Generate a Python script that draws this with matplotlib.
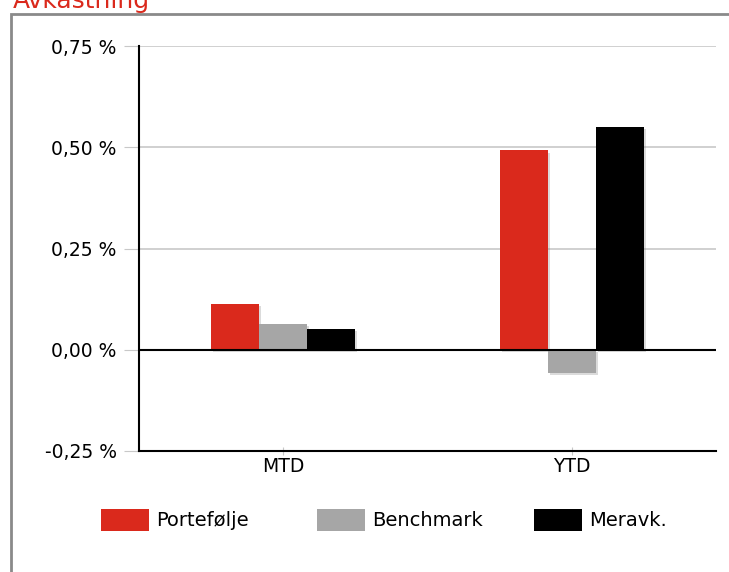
import numpy as np
import matplotlib
matplotlib.use("Agg")
import matplotlib.pyplot as plt
import matplotlib.patheffects as pe
from matplotlib.patches import Rectangle, Patch
from matplotlib.ticker import FuncFormatter

categories = ['MTD', 'YTD']
series_names = ['Portefølje', 'Benchmark', 'Meravk.']
portefolje = [0.113, 0.492]
benchmark = [0.063, -0.058]
meravk = [0.052, 0.550]
colors = ['#DA291C', '#A6A6A6', '#000000']

plt.rcParams['font.family'] = ['DejaVu Sans']

fig = plt.figure(figsize=(7.29, 5.72), dpi=100)

# grå ramme rundt hele grafen (fortsetter utenfor bildet)
fig.patches.append(Rectangle((11 / 729, -0.1), 1.0, 1 - 14 / 572 + 0.1,
                             transform=fig.transFigure, fill=False,
                             edgecolor='#8a8a8a', linewidth=2))
fig.text(13 / 729, 1 - 8 / 572, 'Avkastning', color='#DA291C',
         fontsize=18, va='baseline', ha='left')

ax = fig.add_axes([139 / 729, 1 - 451 / 572, 577 / 729, 405 / 572])

x = np.arange(len(categories))
w = 1 / 6
shadow = [pe.SimplePatchShadow(offset=(1.5, -1.5), shadow_rgbFace='#888888', alpha=0.3),
          pe.Normal()]
for i, vals in enumerate([portefolje, benchmark, meravk]):
    ax.bar(x + (i - 1) * w, vals, width=w, color=colors[i],
           zorder=3, path_effects=shadow)

ax.set_xlim(-0.5, 1.5)
ax.set_ylim(-0.25, 0.75)
ax.set_yticks([-0.25, 0, 0.25, 0.5, 0.75])
ax.yaxis.set_major_formatter(FuncFormatter(lambda v, p: f'{v:.2f} %'.replace('.', ',')))
ax.set_xticks(x)
ax.set_xticklabels(categories)

ax.grid(axis='y', color='#c8c8c8', linewidth=1.2, zorder=0)
ax.axhline(0, color='black', linewidth=1.5, zorder=4)
for s in ['top', 'right']:
    ax.spines[s].set_visible(False)
ax.spines['left'].set_linewidth(1.5)
ax.spines['bottom'].set_linewidth(1.5)
ax.tick_params(axis='y', length=11, color='#c8c8c8', labelsize=13.5, pad=5)
ax.tick_params(axis='x', length=6, color='#c8c8c8', labelsize=13.5, pad=1,
               direction='inout')

# én legend per serie, plassert side om side
legend_x = [101, 317, 534]
for name, c, lx in zip(series_names, colors, legend_x):
    fig.legend(handles=[Patch(facecolor=c, label=name)], loc='center left',
               bbox_to_anchor=(lx / 729, 1 - 520 / 572),
               frameon=False, fontsize=14, handlelength=2.45, handleheight=1.35,
               handletextpad=0.4, borderpad=0, borderaxespad=0)

fig.savefig('out.png', dpi=100)
